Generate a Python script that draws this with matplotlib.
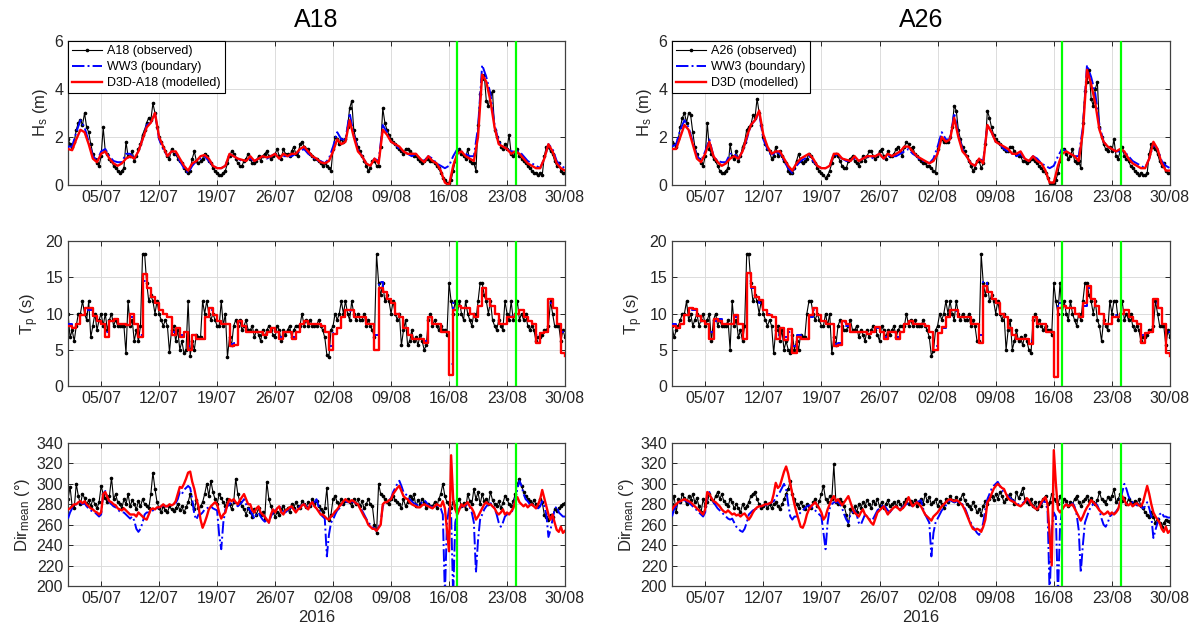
import numpy as np
import pandas as pd
import matplotlib
matplotlib.use("Agg")
import matplotlib.pyplot as plt
import matplotlib.dates as mdates

plt.rcParams['font.family'] = ['Liberation Sans', 'DejaVu Sans']
plt.rcParams['mathtext.default'] = 'regular'

START = '2016-07-01'
END = '2016-08-30'
STATIONS = ['A18', 'A26']
LEGEND_LABELS = {
    'A18': ['A18 (observed)', 'WW3 (boundary)', 'D3D-A18 (modelled)'],
    'A26': ['A26 (observed)', 'WW3 (boundary)', 'D3D (modelled)'],
}
TICK_DATES = ['2016-07-05', '2016-07-12', '2016-07-19', '2016-07-26', '2016-08-02',
              '2016-08-09', '2016-08-16', '2016-08-23', '2016-08-30']
EVENT_LINES = {'A18': ['2016-08-16 22:00', '2016-08-24 01:00'],
               'A26': ['2016-08-17 00:00', '2016-08-24 01:00']}

# ---------------- Hs (m) ----------------
hs_obs_A18 = [
    1.9, 1.7, 1.6, 1.8,  2.3, 2.6, 2.7, 2.5,  3.0, 2.4, 2.2, 1.7,  1.3, 1.1, 0.9, 0.8,
    1.2, 2.4, 1.4, 1.3,  1.1, 1.0, 0.8, 0.7,  0.6, 0.5, 0.6, 0.7,  1.8, 1.2, 1.2, 1.4,
    1.0, 1.2, 1.5, 1.7,  2.1, 2.3, 2.6, 2.8,  2.7, 3.4, 3.0, 2.4,  2.0, 1.8, 1.6, 1.4,
    1.2, 1.1, 1.5, 1.3,  1.3, 1.1, 1.0, 0.9,  0.7, 0.6, 0.5, 0.6,  1.1, 1.4, 1.0, 0.9,
    1.0, 1.1, 1.3, 1.2,  1.0, 0.9, 0.7, 0.6,  0.5, 0.4, 0.4, 0.5,  0.6, 0.9, 1.2, 1.4,
    1.3, 1.1, 0.9, 0.8,  0.8, 1.0, 1.1, 1.3,  1.1, 0.9, 0.9, 1.0,  1.2, 1.0, 1.2, 1.3,
    1.4, 1.2, 1.1, 1.2,  1.3, 1.5, 1.2, 1.1,  1.5, 1.3, 1.3, 1.2,  1.4, 1.6, 1.3, 1.2,
    1.7, 1.8, 1.6, 1.5,  1.5, 1.3, 1.2, 1.1,  1.1, 1.0, 0.9, 0.8,  0.9, 0.8, 0.7, 0.6,
    1.5, 2.0, 1.9, 1.7,  1.9, 1.8, 1.9, 2.4,  3.2, 3.5, 2.3, 1.9,  1.6, 1.4, 1.2, 1.0,
    0.8, 0.6, 0.7, 1.0,  1.0, 0.8, 0.8, 1.6,  3.2, 2.6, 2.3, 2.1,  1.9, 1.8, 1.7, 1.6,
    1.5, 1.4, 1.3, 1.5,  1.5, 1.4, 1.3, 1.2,  1.2, 1.1, 1.0, 0.9,  1.0, 1.1, 1.1, 1.0,
    1.0, 0.9, 0.8, 0.7,  0.5, 0.3, 0.2, 0.1,  0.1, 0.2, 0.6, 1.0,  1.4, 1.5, 1.3, 1.2,
    1.1, 1.5, 1.0, 0.9,  0.9, 0.6, 2.5, 3.8,  4.4, 4.6, 3.5, 3.3,  3.8, 3.9, 2.3, 2.0,
    1.8, 1.6, 1.5, 1.7,  1.5, 2.1, 1.3, 1.2,  1.3, 1.5, 1.2, 1.1,  1.0, 0.9, 0.8, 0.7,
    0.6, 0.5, 0.5, 0.4,  0.5, 0.4, 1.2, 1.6,  1.6, 1.4, 1.3, 1.0,  0.8, 0.9, 0.6, 0.5,
    0.5]
hs_ww3_A18 = [
    1.6, 1.6, 2.2, 2.7, 2.4, 1.8, 1.2, 1.0, 1.4, 1.5, 1.2, 1.0, 0.95, 0.95, 1.3, 1.3,
    1.1, 1.4, 1.9, 2.5, 2.6, 3.0, 1.9, 1.5, 1.2, 1.4, 1.3, 1.0, 0.7, 0.5, 0.8, 1.0,
    1.1, 1.2, 1.0, 0.8, 0.7, 0.7, 0.8, 1.3, 1.2, 1.1, 1.0, 1.0, 1.1, 1.0, 1.1, 1.2,
    1.1, 1.2, 1.3, 1.1, 1.2, 1.2, 1.2, 1.3, 1.4, 1.5, 1.3, 1.2, 1.0, 1.0, 0.9, 1.1,
    1.6, 2.2, 1.9, 1.9, 3.0, 2.1, 1.5, 1.2, 0.9, 0.8, 1.1, 1.0, 2.5, 2.2, 1.8, 1.7,
    1.5, 1.4, 1.3, 1.2, 1.3, 1.1, 1.0, 1.2, 1.1, 0.9, 0.8, 0.7, 0.8, 1.2, 1.5, 1.4,
    1.3, 1.2, 1.2, 2.4, 5.0, 4.5, 3.8, 2.5, 1.8, 1.6, 1.5, 1.4, 1.4, 1.4, 1.2, 1.0,
    0.9, 0.8, 0.7, 1.1, 1.7, 1.5, 1.0, 0.8, 0.7]
hs_d3d_A18 = [
    1.5, 1.45, 1.9, 2.3, 2.2, 1.7, 1.1, 0.95, 1.3, 1.4, 1.1, 0.9, 0.8, 0.9, 1.1, 1.2,
    1.1, 1.4, 1.9, 2.4, 2.6, 3.0, 2.0, 1.6, 1.2, 1.4, 1.4, 1.1, 0.8, 0.6, 0.9, 1.0,
    1.2, 1.25, 1.1, 0.8, 0.7, 0.7, 0.8, 1.3, 1.2, 1.1, 1.05, 1.0, 1.2, 1.0, 1.1, 1.2,
    1.15, 1.2, 1.3, 1.1, 1.3, 1.2, 1.3, 1.3, 1.5, 1.6, 1.4, 1.2, 1.1, 0.95, 0.9, 1.0,
    1.4, 1.9, 1.7, 1.8, 2.7, 2.0, 1.4, 1.2, 0.9, 0.8, 1.1, 0.9, 2.3, 2.1, 1.8, 1.7,
    1.6, 1.4, 1.3, 1.3, 1.3, 1.1, 0.95, 1.2, 1.0, 0.9, 0.6, 0.1, 0.0, 0.8, 1.3, 1.4,
    1.2, 1.1, 1.0, 2.0, 4.6, 4.3, 3.5, 2.4, 1.7, 1.6, 1.5, 1.3, 1.4, 1.3, 1.1, 0.9,
    0.8, 0.7, 0.7, 1.1, 1.7, 1.4, 0.9, 0.7, 0.6]

hs_obs_A26 = [
    1.8, 1.7, 1.6, 1.9,  2.4, 2.8, 3.0, 2.6,  3.0, 2.9, 2.2, 1.6,  1.3, 1.1, 0.9, 0.8,
    1.2, 2.6, 1.5, 1.3,  1.1, 1.0, 0.8, 0.6,  0.5, 0.5, 0.6, 0.7,  1.7, 1.2, 1.1, 1.4,
    1.0, 1.2, 1.6, 1.8,  2.3, 2.4, 2.5, 2.9,  2.8, 3.6, 3.0, 2.5,  2.0, 1.7, 1.5, 1.4,
    1.1, 1.2, 1.6, 1.2,  1.4, 1.2, 1.0, 0.9,  0.6, 0.5, 0.5, 0.7,  1.0, 1.3, 1.0, 0.9,
    1.0, 1.1, 1.3, 1.2,  1.0, 0.9, 0.7, 0.6,  0.5, 0.4, 0.3, 0.4,  0.6, 0.9, 1.2, 1.3,
    1.2, 1.0, 0.8, 0.7,  0.7, 1.0, 1.1, 1.2,  1.0, 0.9, 0.8, 1.0,  1.2, 1.0, 1.2, 1.4,
    1.4, 1.2, 1.1, 1.2,  1.4, 1.5, 1.2, 1.1,  1.4, 1.2, 1.2, 1.3,  1.5, 1.6, 1.4, 1.2,
    1.6, 1.8, 1.7, 1.5,  1.6, 1.3, 1.2, 1.1,  1.0, 0.9, 0.9, 0.8,  0.8, 0.7, 0.6, 0.5,
    1.5, 1.9, 1.9, 1.8,  1.8, 1.8, 2.0, 2.4,  3.3, 3.1, 2.3, 1.9,  1.6, 1.4, 1.2, 1.0,
    0.8, 0.6, 0.7, 1.0,  1.0, 0.7, 0.9, 1.7,  3.1, 2.8, 2.4, 2.1,  1.9, 1.8, 1.7, 1.6,
    1.5, 1.4, 1.4, 1.6,  1.6, 1.4, 1.3, 1.2,  1.2, 1.0, 1.0, 0.9,  1.0, 1.1, 1.1, 1.0,
    0.9, 0.8, 0.7, 0.6,  0.5, 0.3, 0.1, 0.1,  0.1, 0.2, 0.5, 1.0,  1.5, 1.5, 1.3, 1.1,
    1.2, 1.5, 1.0, 0.9,  1.0, 0.7, 2.6, 3.9,  4.3, 4.8, 3.6, 3.3,  4.0, 4.3, 2.4, 2.0,
    1.7, 1.5, 1.4, 1.6,  1.4, 1.9, 1.2, 1.1,  1.4, 1.6, 1.2, 1.1,  1.0, 0.8, 0.7, 0.6,
    0.5, 0.4, 0.5, 0.4,  0.4, 0.5, 1.3, 1.7,  1.6, 1.5, 1.3, 1.0,  0.8, 0.9, 0.6, 0.5,
    0.5]
hs_ww3_A26 = [
    1.6, 1.7, 2.3, 2.7, 2.4, 1.8, 1.2, 1.0, 1.4, 1.9, 1.2, 1.0, 0.95, 0.95, 1.3, 1.3,
    1.1, 1.4, 1.9, 2.5, 2.7, 3.0, 1.9, 1.5, 1.2, 1.4, 1.3, 1.0, 0.7, 0.5, 0.8, 1.0,
    1.1, 1.2, 1.0, 0.8, 0.7, 0.7, 0.8, 1.3, 1.2, 1.1, 1.0, 1.0, 1.1, 1.0, 1.1, 1.2,
    1.1, 1.2, 1.3, 1.1, 1.2, 1.2, 1.2, 1.3, 1.4, 1.5, 1.3, 1.2, 1.0, 1.0, 0.9, 1.1,
    1.6, 2.2, 1.9, 1.9, 3.0, 2.1, 1.5, 1.2, 0.9, 0.8, 1.1, 1.0, 2.5, 2.2, 1.8, 1.7,
    1.5, 1.4, 1.3, 1.2, 1.3, 1.1, 1.0, 1.2, 1.1, 0.9, 0.8, 0.7, 0.8, 1.2, 1.5, 1.4,
    1.3, 1.2, 1.2, 2.4, 5.0, 4.5, 3.8, 2.5, 1.8, 1.6, 1.5, 1.4, 1.4, 1.4, 1.2, 1.0,
    0.9, 0.8, 0.7, 1.1, 1.7, 1.5, 1.0, 0.8, 0.7]
hs_d3d_A26 = [
    1.5, 1.5, 2.0, 2.5, 2.3, 1.7, 1.1, 0.95, 1.3, 1.8, 1.2, 0.95, 0.8, 0.9, 1.1, 1.2,
    1.1, 1.4, 2.0, 2.5, 2.7, 3.1, 2.1, 1.6, 1.3, 1.4, 1.4, 1.1, 0.8, 0.6, 0.9, 1.1,
    1.2, 1.3, 1.1, 0.8, 0.7, 0.7, 0.8, 1.3, 1.3, 1.1, 1.05, 1.0, 1.2, 1.0, 1.1, 1.2,
    1.2, 1.2, 1.3, 1.1, 1.3, 1.2, 1.3, 1.4, 1.6, 1.6, 1.4, 1.2, 1.1, 1.0, 0.9, 1.0,
    1.3, 2.0, 1.8, 1.9, 2.8, 2.0, 1.4, 1.2, 0.9, 0.8, 1.1, 0.9, 2.5, 2.2, 1.8, 1.7,
    1.6, 1.5, 1.3, 1.3, 1.4, 1.1, 1.0, 1.2, 1.0, 0.9, 0.6, 0.1, 0.1, 0.8, 1.3, 1.4,
    1.3, 1.2, 1.0, 2.2, 4.8, 4.2, 3.4, 2.3, 1.8, 1.6, 1.5, 1.4, 1.5, 1.4, 1.1, 0.9,
    0.8, 0.7, 0.7, 1.1, 1.8, 1.5, 0.9, 0.6, 0.6]

# ---------------- Tp (s) ----------------
tp_obs_A18 = [
    10.0, 6.7, 7.7, 6.2,  8.3, 10.0, 10.0, 11.7,  10.0, 9.1, 11.7, 6.7,  8.3, 10.0, 7.7, 9.1,
    10.0, 8.3, 10.0, 7.7,  9.1, 10.0, 8.3, 9.1,  8.3, 8.3, 8.3, 8.3,  4.5, 11.7, 8.3, 9.1,
    6.2, 7.7, 6.2, 8.3,  18.2, 18.2, 14.2, 11.7,  12.5, 11.7, 10.0, 11.7,  10.0, 9.1, 8.3, 9.1,
    8.3, 4.7, 7.7, 8.3,  6.2, 7.7, 5.0, 6.2,  4.5, 5.0, 11.7, 4.2,  6.2, 5.0, 7.1, 6.7,
    6.7, 11.7, 10.0, 11.7,  10.0, 9.1, 10.0, 9.1,  8.3, 8.3, 11.7, 8.3,  10.0, 4.0, 6.7, 5.6,
    8.3, 9.1, 8.3, 9.1,  7.7, 8.3, 9.1, 7.7,  7.7, 8.3, 6.7, 7.7,  7.1, 6.2, 7.7, 6.7,
    7.7, 8.3, 7.7, 7.1,  6.7, 8.3, 7.7, 6.2,  7.7, 7.1, 7.7, 8.3,  6.7, 7.7, 8.3, 8.3,
    8.3, 10.0, 8.3, 9.1,  8.3, 9.1, 8.3, 8.3,  8.3, 9.1, 8.3, 7.7,  6.7, 4.3, 4.0, 7.7,
    8.3, 10.0, 9.1, 10.0,  11.7, 10.0, 11.7, 10.0,  9.1, 11.7, 10.0, 9.1,  10.0, 9.1, 9.1, 10.0,
    8.3, 9.1, 8.3, 7.7,  6.7, 18.2, 14.2, 12.5,  14.2, 11.7, 12.5, 11.7,  10.0, 11.7, 10.0, 9.1,
    10.0, 5.6, 7.7, 9.1,  5.6, 6.2, 7.7, 6.2,  6.7, 5.6, 7.1, 6.2,  5.0, 5.6, 9.1, 10.0,
    8.3, 9.1, 8.3, 7.7,  8.3, 7.7, 7.7, 7.1,  14.2, 11.7, 10.0, 11.7,  10.0, 11.7, 10.0, 9.1,
    11.7, 10.0, 9.1, 8.3,  10.0, 9.1, 11.7, 14.2,  14.2, 12.5, 11.7, 10.0,  11.7, 9.1, 8.3, 7.7,
    9.1, 8.3, 7.7, 11.7,  10.0, 9.1, 11.7, 9.1,  10.0, 11.7, 9.1, 10.0,  9.1, 10.0, 8.3, 7.7,
    8.3, 7.7, 6.2, 6.7,  6.7, 7.1, 7.7, 7.7,  8.3, 11.7, 10.0, 8.3,  8.3, 8.3, 6.2, 7.7,
    6.7]
tp_ww3_A18 = [
    8.5, 8.0, 8.5, 9.8, 10.5, 10.5, 9.5, 9.0, 8.5, 7.5, 9.0, 9.2, 8.5, 8.5, 8.5, 9.5,
    8.5, 7.0, 14.5, 13.5, 12.3, 11.5, 10.5, 10.0, 9.5, 7.5, 8.0, 7.0, 7.5, 5.5, 7.0, 6.5,
    6.5, 9.5, 10.5, 9.8, 9.0, 8.5, 8.5, 5.8, 6.0, 8.8, 8.3, 7.5, 7.5, 7.5, 7.5, 7.2,
    7.5, 8.0, 7.5, 6.8, 7.5, 7.5, 6.8, 7.5, 8.5, 9.0, 8.5, 8.5, 8.5, 8.3, 7.5, 5.5,
    7.3, 8.0, 9.5, 10.5, 10.3, 9.5, 9.5, 9.5, 8.5, 8.5, 7.0, 14.3, 13.0, 12.0, 11.5, 10.0,
    9.5, 8.0, 7.0, 6.5, 6.5, 6.5, 6.2, 9.5, 8.5, 8.5, 7.5, 7.5, 3.0, 11.5, 11.0, 10.8,
    10.8, 10.0, 9.5, 11.0, 13.5, 12.0, 11.0, 10.0, 8.5, 8.5, 9.5, 9.8, 10.0, 10.5, 9.5, 9.0,
    8.5, 7.0, 7.3, 7.5, 11.5, 10.8, 8.5, 7.5, 7.5]
tp_d3d_A18 = [
    8.3, 8.0, 8.5, 9.8, 10.7, 10.7, 9.7, 9.0, 8.5, 6.8, 9.0, 9.3, 8.5, 8.5, 8.4, 10.0,
    8.5, 6.8, 15.5, 13.5, 12.3, 11.5, 10.5, 10.0, 9.5, 7.0, 8.0, 6.8, 7.5, 5.0, 7.0, 6.5,
    6.5, 9.5, 10.7, 9.8, 9.0, 8.5, 8.5, 5.5, 5.7, 9.0, 8.3, 7.5, 7.5, 7.5, 7.5, 7.0,
    7.5, 8.0, 7.5, 6.5, 7.5, 7.5, 6.5, 7.5, 8.5, 9.0, 8.5, 8.5, 8.5, 8.3, 7.5, 5.0,
    7.2, 8.0, 9.5, 10.5, 10.5, 9.5, 9.5, 9.5, 8.5, 8.5, 5.0, 13.5, 13.0, 12.0, 11.5, 10.0,
    9.5, 8.0, 7.0, 6.5, 6.5, 6.5, 6.0, 9.5, 8.5, 8.5, 7.5, 7.5, 1.5, 10.5, 11.0, 10.8,
    10.8, 10.0, 9.5, 11.0, 13.5, 12.0, 11.0, 10.0, 8.5, 8.5, 9.5, 9.5, 10.0, 10.5, 9.5, 9.0,
    8.5, 6.0, 7.3, 7.5, 12.0, 10.8, 8.5, 4.5, 4.2]

tp_obs_A26 = [
    8.3, 6.7, 7.7, 8.3,  9.1, 10.0, 10.0, 11.7,  9.1, 10.0, 8.3, 9.1,  10.0, 8.3, 9.1, 10.0,
    8.3, 9.1, 10.0, 6.2,  9.1, 10.0, 8.3, 9.1,  8.3, 8.3, 8.3, 9.1,  5.0, 11.7, 8.3, 9.1,
    6.7, 7.7, 6.2, 8.3,  18.2, 18.2, 14.2, 11.7,  12.5, 11.7, 10.0, 11.7,  10.0, 9.1, 8.3, 9.1,
    8.3, 4.5, 7.7, 8.3,  6.2, 7.7, 5.0, 6.2,  5.0, 4.5, 7.1, 5.0,  6.2, 5.0, 7.1, 6.7,
    6.7, 10.0, 11.7, 11.7,  10.0, 9.1, 10.0, 9.1,  8.3, 8.3, 10.0, 8.3,  10.0, 4.5, 6.7, 5.6,
    8.3, 9.1, 8.3, 7.7,  7.7, 8.3, 9.1, 7.7,  7.7, 8.3, 6.7, 7.7,  7.1, 6.2, 7.7, 6.7,
    7.7, 8.3, 7.7, 7.1,  6.2, 8.3, 7.7, 6.7,  7.7, 7.1, 7.7, 8.3,  6.7, 7.7, 8.3, 8.3,
    8.3, 10.0, 8.3, 9.1,  8.3, 9.1, 8.3, 8.3,  8.3, 9.1, 8.3, 7.7,  6.7, 4.2, 4.8, 7.7,
    8.3, 10.0, 9.1, 10.0,  11.7, 10.0, 11.7, 10.0,  9.1, 11.7, 10.0, 9.1,  10.0, 9.1, 9.1, 10.0,
    8.3, 9.1, 8.3, 6.2,  6.2, 18.2, 14.2, 12.5,  14.2, 11.7, 12.5, 11.7,  10.0, 11.7, 10.0, 9.1,
    10.0, 5.0, 7.7, 9.1,  5.0, 6.2, 7.7, 6.2,  6.7, 5.6, 7.1, 6.2,  5.0, 4.5, 9.1, 10.0,
    8.3, 9.1, 8.3, 7.7,  8.3, 7.7, 7.7, 7.1,  14.2, 11.7, 10.0, 14.2,  10.0, 11.7, 10.0, 9.1,
    11.7, 10.0, 9.1, 8.3,  10.0, 9.1, 11.7, 14.2,  14.2, 12.5, 11.7, 10.0,  11.7, 9.1, 8.3, 6.2,
    9.1, 8.3, 7.7, 11.7,  10.0, 11.7, 11.7, 9.1,  10.0, 11.7, 9.1, 10.0,  9.1, 10.0, 8.3, 7.7,
    8.3, 7.7, 6.2, 6.7,  6.7, 7.1, 7.7, 7.7,  8.3, 11.7, 10.0, 8.3,  8.3, 8.3, 5.6, 7.7,
    6.7]
tp_ww3_A26 = [
    8.5, 8.0, 8.5, 9.8, 10.5, 10.5, 9.5, 9.0, 8.5, 7.5, 9.0, 9.2, 8.5, 8.5, 8.5, 9.5,
    8.5, 6.5, 14.5, 13.5, 12.3, 11.5, 10.5, 10.0, 9.5, 7.0, 8.0, 6.8, 7.5, 5.5, 7.0, 6.5,
    6.5, 9.5, 10.5, 9.8, 9.0, 8.5, 8.5, 5.8, 6.0, 8.8, 8.3, 7.5, 7.5, 7.5, 7.5, 7.2,
    7.5, 8.0, 7.5, 6.8, 7.5, 7.5, 6.8, 7.5, 8.5, 9.0, 8.5, 8.5, 8.5, 8.3, 7.5, 5.5,
    7.3, 8.0, 9.5, 10.5, 10.3, 9.5, 9.5, 9.5, 8.5, 8.5, 7.0, 14.3, 13.0, 12.0, 11.5, 10.0,
    9.5, 8.0, 7.0, 6.5, 6.5, 6.5, 6.2, 9.5, 8.5, 8.5, 7.5, 7.5, 3.0, 11.5, 11.0, 10.8,
    10.8, 10.0, 9.5, 11.0, 13.5, 12.0, 11.0, 10.0, 8.5, 8.5, 9.5, 9.8, 10.0, 10.5, 9.5, 9.0,
    8.5, 7.0, 7.3, 7.5, 11.5, 10.8, 8.5, 7.5, 7.5]
tp_d3d_A26 = [
    8.3, 8.0, 8.5, 9.8, 10.7, 10.6, 9.7, 9.0, 8.5, 6.5, 9.2, 9.0, 8.5, 8.5, 8.5, 9.8,
    8.5, 6.5, 15.6, 13.6, 12.3, 11.8, 10.5, 9.8, 9.5, 6.5, 8.0, 6.3, 7.8, 4.5, 6.8, 6.5,
    6.5, 9.8, 10.8, 9.8, 9.0, 8.5, 8.5, 5.5, 5.7, 9.0, 8.5, 7.5, 7.5, 7.5, 7.5, 7.2,
    7.5, 8.2, 7.5, 6.5, 7.5, 7.5, 6.5, 7.5, 8.5, 9.0, 8.5, 8.5, 8.5, 8.3, 7.5, 5.0,
    7.3, 8.2, 9.5, 10.5, 10.5, 9.5, 9.5, 9.5, 8.5, 8.5, 6.0, 13.8, 13.0, 12.0, 11.5, 10.0,
    9.5, 8.0, 7.0, 6.5, 6.5, 6.5, 5.8, 9.5, 8.5, 8.5, 7.5, 7.5, 1.2, 10.8, 11.0, 10.8,
    10.8, 10.0, 9.5, 11.5, 13.8, 12.0, 11.0, 10.0, 8.5, 8.5, 9.5, 9.5, 10.0, 10.5, 9.5, 9.0,
    8.5, 6.0, 7.3, 7.5, 12.0, 10.8, 8.5, 4.5, 4.2]

# ---------------- Mean direction (deg) ----------------
dir_obs_A18 = [
    285, 297, 278, 276,  300, 288, 280, 290,  286, 280, 284, 278,  285, 280, 276, 282,
    298, 290, 286, 282,  288, 306, 285, 290,  282, 280, 276, 285,  280, 290, 278, 284,
    280, 275, 283, 278,  285, 280, 278, 276,  290, 311, 295, 282,  276, 272, 278, 274,
    272, 278, 275, 273,  276, 280, 274, 278,  272, 277, 282, 290,  280, 275, 284, 276,
    278, 282, 290, 300,  288, 303, 292, 285,  280, 290, 286, 282,  278, 285, 280, 275,
    282, 305, 290, 282,  278, 275, 270, 276,  272, 268, 275, 270,  276, 270, 272, 266,
    302, 285, 278, 272,  268, 272, 270, 275,  278, 274, 276, 272,  280, 276, 282, 278,
    276, 283, 280, 277,  282, 278, 285, 280,  283, 278, 275, 272,  276, 296, 265, 270,
    285, 288, 282, 280,  285, 280, 283, 285,  282, 278, 285, 280,  285, 278, 283, 276,
    280, 285, 280, 278,  260, 252, 300, 290,  288, 285, 282, 280,  285, 288, 284, 282,
    280, 276, 285, 278,  282, 288, 285, 290,  278, 284, 280, 285,  282, 276, 280, 278,
    278, 282, 276, 285,  290, 300, 288, 282,  280, 276, 282, 278,  284, 285, 278, 281,
    275, 290, 283, 280,  295, 285, 292, 280,  290, 283, 285, 280,  292, 284, 280, 278,
    283, 276, 281, 288,  285, 280, 278, 283,  290, 300, 305, 298,  292, 288, 285, 283,
    280, 284, 280, 278,  285, 282, 270, 268,  265, 270, 268, 275,  273, 276, 278, 280,
    281]
dir_ww3_A18 = [
    266, 272, 276, 279,  280, 281, 282, 280,  281, 278, 276, 274,  273, 272, 270, 268,
    270, 290, 293, 287,  282, 280, 278, 277,  275, 273, 272, 272,  270, 268, 266, 268,
    264, 256, 253, 256,  262, 270, 272, 272,  273, 274, 275, 276,  277, 278, 279, 278,
    278, 279, 279, 280,  281, 285, 292, 290,  294, 296, 298, 296,  285, 270, 265, 270,
    270, 272, 275, 276,  277, 278, 276, 275,  274, 250, 236, 262,  275, 278, 280, 282,
    283, 280, 278, 280,  282, 285, 280, 276,  274, 270, 266, 270,  272, 268, 265, 263,
    264, 262, 268, 272,  274, 276, 278, 276,  273, 272, 274, 276,  277, 276, 274, 276,
    278, 279, 280, 278,  276, 279, 281, 282,  285, 278, 270, 268,  266, 229, 250, 262,
    265, 270, 274, 276,  279, 282, 283, 282,  282, 283, 282, 281,  280, 277, 274, 270,
    266, 262, 260, 258,  256, 254, 258, 262,  278, 281, 282, 284,  286, 292, 296, 300,
    303, 298, 292, 290,  288, 285, 283, 281,  280, 279, 280, 282,  284, 282, 279, 278,
    277, 278, 279, 278,  276, 270, 190, 262,  276, 270, 190, 262,  272, 276, 278, 278,
    279, 280, 277, 272,  262, 213, 245, 265,  270, 275, 278, 280,  281, 280, 276, 270,
    262, 258, 262, 268,  270, 271, 272, 275,  285, 295, 303, 298,  290, 285, 283, 280,
    278, 280, 278, 276,  278, 283, 278, 270,  248, 255, 265, 275,  278, 272, 270, 268,
    268]
dir_d3d_A18 = [
    275, 276, 278, 280,  280, 282, 283, 281,  283, 280, 278, 276,  275, 273, 272, 270,
    272, 290, 292, 287,  283, 282, 280, 279,  276, 275, 274, 276,  274, 272, 270, 270,
    270, 268, 272, 270,  268, 266, 265, 270,  275, 276, 275, 277,  277, 278, 280, 278,
    278, 280, 279, 280,  283, 290, 297, 296,  300, 305, 311, 312,  302, 295, 285, 278,
    265, 257, 262, 268,  275, 278, 280, 282,  280, 272, 266, 270,  272, 280, 285, 283,
    285, 282, 280, 284,  287, 290, 285, 280,  280, 274, 272, 276,  278, 272, 270, 268,
    265, 262, 270, 275,  272, 276, 278, 272,  270, 274, 275, 277,  278, 275, 272, 275,
    276, 279, 280, 277,  275, 280, 282, 278,  276, 273, 270, 270,  268, 266, 265, 268,
    270, 273, 275, 278,  280, 283, 285, 283,  282, 284, 283, 281,  280, 276, 272, 268,
    265, 260, 258, 256,  256, 254, 257, 260,  280, 282, 282, 284,  285, 290, 293, 296,
    298, 293, 288, 286,  285, 282, 280, 279,  278, 277, 277, 279,  280, 279, 278, 277,
    276, 278, 280, 279,  278, 283, 276, 255,  234, 328, 285, 275,  270, 275, 280, 278,
    280, 282, 278, 276,  272, 265, 268, 272,  276, 280, 282, 280,  280, 278, 276, 272,
    270, 272, 275, 270,  272, 270, 273, 276,  283, 287, 282, 280,  278, 280, 277, 279,
    280, 278, 276, 280,  285, 294, 286, 278,  270, 265, 270, 262,  255, 253, 258, 252,
    254]

dir_obs_A26 = [
    280, 288, 272, 285,  282, 290, 286, 280,  288, 284, 290, 282,  286, 278, 272, 285,
    278, 282, 290, 285,  282, 288, 292, 285,  290, 283, 280, 278,  285, 282, 276, 280,
    276, 272, 280, 276,  278, 282, 288, 290,  292, 285, 280, 276,  278, 282, 276, 280,
    276, 280, 282, 278,  275, 280, 285, 290,  295, 303, 290, 285,  280, 276, 282, 278,
    275, 280, 278, 276,  282, 285, 278, 283,  290, 298, 285, 282,  288, 285, 319, 282,
    280, 285, 282, 278,  270, 260, 275, 272,  278, 272, 280, 276,  282, 278, 284, 280,
    276, 283, 280, 285,  278, 282, 276, 280,  284, 278, 280, 282,  278, 283, 280, 277,
    282, 285, 280, 283,  280, 284, 278, 282,  285, 280, 290, 283,  287, 280, 282, 285,
    278, 283, 280, 276,  285, 282, 288, 284,  283, 287, 280, 285,  290, 284, 280, 278,
    275, 282, 278, 272,  275, 270, 278, 283,  280, 285, 288, 284,  290, 285, 292, 288,
    282, 285, 288, 290,  284, 280, 292, 286,  290, 296, 285, 282,  280, 285, 278, 282,
    275, 282, 278, 285,  288, 280, 282, 290,  285, 283, 280, 288,  282, 285, 283, 278,
    282, 280, 285, 288,  282, 278, 283, 285,  288, 283, 286, 282,  280, 284, 292, 285,
    283, 280, 287, 285,  288, 295, 282, 285,  290, 283, 286, 280,  285, 282, 280, 283,
    280, 285, 278, 276,  272, 270, 268, 272,  268, 262, 266, 262,  258, 262, 265, 264,
    263]
dir_ww3_A26 = [
    268, 275, 278, 281,  282, 283, 284, 283,  282, 280, 278, 276,  274, 272, 270, 268,
    272, 290, 292, 286,  282, 279, 276, 274,  272, 270, 268, 266,  265, 266, 262, 258,
    256, 254, 253, 256,  262, 270, 272, 274,  275, 276, 277, 278,  278, 279, 280, 281,
    282, 283, 286, 290,  292, 296, 300, 295,  280, 268, 265, 268,  268, 270, 272, 274,
    276, 278, 279, 278,  276, 274, 272, 270,  268, 252, 236, 262,  276, 280, 282, 282,
    282, 280, 276, 270,  265, 262, 270, 272,  274, 270, 262, 260,  265, 270, 268, 266,
    264, 266, 270, 274,  276, 278, 280, 277,  274, 272, 275, 277,  278, 276, 275, 277,
    279, 280, 281, 279,  278, 280, 282, 283,  284, 276, 270, 266,  262, 229, 252, 262,
    266, 270, 274, 276,  279, 282, 284, 283,  282, 283, 282, 281,  280, 277, 272, 266,
    262, 258, 255, 252,  250, 254, 262, 275,  285, 290, 295, 298,  300, 302, 298, 294,
    292, 290, 288, 286,  284, 283, 281, 280,  280, 281, 283, 285,  283, 280, 278, 277,
    276, 278, 281, 283,  282, 274, 190, 255,  272, 268, 190, 258,  275, 278, 280, 278,
    279, 281, 278, 270,  255, 213, 240, 262,  268, 274, 278, 280,  281, 279, 274, 266,
    260, 258, 262, 268,  270, 271, 273, 276,  284, 292, 300, 295,  288, 284, 282, 280,
    279, 280, 278, 276,  278, 282, 276, 268,  247, 255, 262, 270,  272, 268, 268, 267,
    267]
dir_d3d_A26 = [
    275, 278, 280, 282,  283, 284, 285, 284,  283, 282, 280, 278,  276, 274, 272, 270,
    275, 292, 290, 286,  283, 282, 280, 278,  275, 273, 272, 274,  272, 270, 271, 269,
    270, 268, 270, 271,  268, 265, 268, 272,  275, 277, 278, 278,  279, 280, 280, 281,
    282, 290, 301, 296,  298, 305, 312, 317,  310, 300, 290, 280,  272, 265, 258, 257,
    262, 270, 275, 278,  280, 282, 279, 276,  272, 265, 268, 275,  280, 285, 288, 283,
    285, 282, 279, 282,  285, 288, 282, 276,  272, 270, 268, 272,  275, 270, 268, 265,
    262, 260, 266, 272,  274, 276, 278, 274,  270, 273, 275, 277,  278, 276, 274, 276,
    278, 282, 287, 282,  278, 280, 282, 280,  278, 274, 270, 268,  266, 264, 268, 270,
    272, 275, 278, 280,  282, 284, 285, 284,  283, 284, 283, 281,  279, 275, 270, 265,
    260, 256, 255, 256,  255, 253, 258, 265,  282, 285, 290, 295,  298, 300, 298, 296,
    295, 290, 286, 284,  283, 282, 280, 279,  278, 280, 282, 286,  284, 280, 278, 276,
    275, 278, 282, 285,  287, 280, 250, 220,  333, 300, 275, 272,  275, 278, 280, 278,
    279, 280, 276, 272,  268, 264, 268, 273,  277, 280, 284, 282,  280, 277, 274, 272,
    270, 271, 273, 270,  272, 270, 272, 275,  282, 288, 284, 280,  279, 281, 278, 280,
    281, 279, 278, 282,  290, 298, 290, 280,  272, 268, 265, 262,  256, 253, 258, 252,
    254]

DATA = {
    'A18': {'hs': (hs_obs_A18, hs_ww3_A18, hs_d3d_A18),
            'tp': (tp_obs_A18, tp_ww3_A18, tp_d3d_A18),
            'dir': (dir_obs_A18, dir_ww3_A18, dir_d3d_A18)},
    'A26': {'hs': (hs_obs_A26, hs_ww3_A26, hs_d3d_A26),
            'tp': (tp_obs_A26, tp_ww3_A26, tp_d3d_A26),
            'dir': (dir_obs_A26, dir_ww3_A26, dir_d3d_A26)},
}

YLABELS = {'hs': 'H$_s$ (m)', 'tp': 'T$_p$ (s)', 'dir': 'Dir$_{mean}$ (°)'}
YLIMS = {'hs': (0, 6), 'tp': (0, 20), 'dir': (200, 340)}
YTICKS = {'hs': [0, 2, 4, 6], 'tp': [0, 5, 10, 15, 20],
          'dir': [200, 220, 240, 260, 280, 300, 320, 340]}


def time_axis(values):
    t0 = pd.Timestamp(START)
    days = np.linspace(0, (pd.Timestamp(END) - t0).days, len(values))
    return t0 + pd.to_timedelta(days, unit='D')


W, H = 1195, 630
fig = plt.figure(figsize=(W / 100, H / 100), dpi=100)

col_x = {'A18': (68, 565), 'A26': (672, 1170)}
row_y = {'hs': (41, 185), 'tp': (241, 386), 'dir': (443, 586)}

TXT = '#262626'
for st in STATIONS:
    x0, x1 = col_x[st]
    for var in ['hs', 'tp', 'dir']:
        y0, y1 = row_y[var]
        ax = fig.add_axes([x0 / W, 1 - y1 / H, (x1 - x0) / W, (y1 - y0) / H])
        obs, ww3, d3d = DATA[st][var]
        ds = 'steps-post' if var == 'tp' else 'default'
        ax.plot(time_axis(obs), obs, color='black', lw=0.8, marker='.', ms=3.2,
                label=LEGEND_LABELS[st][0], zorder=2)
        ax.plot(time_axis(ww3), ww3, color='#0000ff', lw=1.4, ls='-.',
                drawstyle=ds, label=LEGEND_LABELS[st][1], zorder=3)
        ax.plot(time_axis(d3d), d3d, color='#ff0000', lw=1.7, ls='-',
                drawstyle=ds, label=LEGEND_LABELS[st][2], zorder=4)
        for ev in EVENT_LINES[st]:
            ax.axvline(pd.Timestamp(ev), color='#00ff00', lw=1.6, zorder=5)
        ax.set_xlim(pd.Timestamp(START), pd.Timestamp(END))
        ax.set_ylim(*YLIMS[var])
        ax.set_yticks(YTICKS[var])
        ax.set_xticks([pd.Timestamp(d) for d in TICK_DATES])
        ax.xaxis.set_major_formatter(mdates.DateFormatter('%d/%m'))
        ax.grid(True, color='#dcdcdc', lw=0.7, zorder=0)
        ax.set_axisbelow(True)
        ax.tick_params(direction='in', top=True, right=True, length=3.5,
                       labelsize=11.5, colors=TXT, width=0.7)
        for sp in ax.spines.values():
            sp.set_color('#404040')
            sp.set_linewidth(0.9)
        ax.set_ylabel(YLABELS[var], fontsize=12, color=TXT, labelpad=3)
        if var == 'hs':
            ax.set_title(st, fontsize=18, color='black', pad=10)
            leg = ax.legend(loc='upper left', fontsize=9, frameon=True,
                            fancybox=False, framealpha=1, edgecolor='black',
                            borderaxespad=0, handlelength=2.4, handletextpad=0.4,
                            borderpad=0.35, labelspacing=0.3)
            leg.get_frame().set_linewidth(0.8)
        if var == 'dir':
            ax.set_xlabel('2016', fontsize=12, color=TXT, labelpad=3)

fig.savefig('out.png', dpi=100)
